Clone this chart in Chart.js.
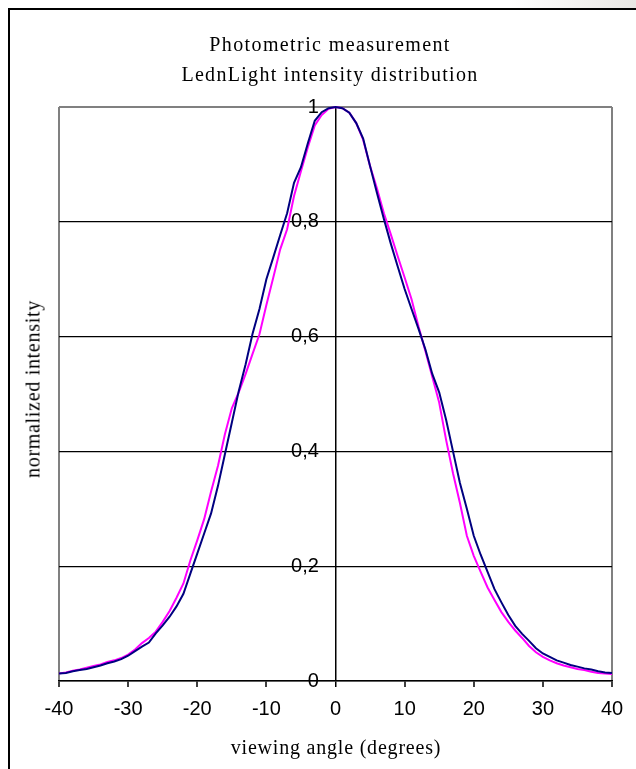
<!DOCTYPE html>
<html>
<head>
<meta charset="utf-8">
<title>Photometric measurement</title>
<script src="https://cdn.jsdelivr.net/npm/chart.js@4/dist/chart.umd.min.js"></script>
<style>
  html, body { margin: 0; padding: 0; }
  body {
    width: 636px; height: 769px; overflow: hidden; position: relative;
    background: linear-gradient(to right, #ffffff 80%, #e9e7e4 100%);
  }
  #frame {
    position: absolute; left: 8px; top: 8px; width: 700px; height: 800px;
    border-left: 2px solid #000; border-top: 2px solid #000; background: #fff;
  }
  #myChart { position: absolute; left: 0; top: 0; }
  .txt {
    position: absolute; font-family: "Liberation Serif", "Times New Roman", serif;
    font-size: 20px; color: #000; white-space: nowrap;
  }
  #title1 { left: 0; width: 660px; text-align: center; top: 33px; letter-spacing: 1.4px; }
  #title2 { left: 0; width: 660px; text-align: center; top: 63px; letter-spacing: 1.3px; }
  #xTitle { left: 0; width: 672px; text-align: center; top: 736px; letter-spacing: 0.8px; }
  #yTitle { left: 33px; top: 389px; transform: translate(-50%, -50%) rotate(-90deg); letter-spacing: 0.7px; }
</style>
</head>
<body>
<div id="frame"></div>
<canvas id="myChart" width="636" height="769"></canvas>
<div class="txt" id="title1">Photometric measurement</div>
<div class="txt" id="title2">LednLight intensity distribution</div>
<div class="txt" id="xTitle">viewing angle (degrees)</div>
<div class="txt" id="yTitle">normalized intensity</div>
<script>
//data
const angles = [-40, -39, -38, -37, -36, -35, -34, -33, -32, -31, -30, -29, -28, -27, -26, -25, -24, -23, -22, -21,
  -20, -19, -18, -17, -16, -15, -14, -13, -12, -11, -10, -9, -8, -7, -6, -5, -4, -3, -2, -1,
  0, 1, 2, 3, 4, 5, 6, 7, 8, 9, 10, 11, 12, 13, 14, 15, 16, 17, 18, 19,
  20, 21, 22, 23, 24, 25, 26, 27, 28, 29, 30, 31, 32, 33, 34, 35, 36, 37, 38, 39, 40];

// measured curve (navy)
const measured = [0.013, 0.014, 0.017, 0.019, 0.021, 0.024, 0.027, 0.031, 0.034, 0.038,
  0.044, 0.052, 0.060, 0.067, 0.083, 0.097, 0.112, 0.130, 0.152, 0.187,
  0.222, 0.257, 0.292, 0.340, 0.395, 0.450, 0.505, 0.552, 0.605, 0.648,
  0.700, 0.738, 0.777, 0.815, 0.868, 0.895, 0.937, 0.976, 0.991, 0.998,
  1.000, 0.998, 0.990, 0.972, 0.945, 0.897, 0.850, 0.805, 0.762, 0.722,
  0.683, 0.648, 0.614, 0.578, 0.535, 0.503, 0.455, 0.400, 0.345, 0.300,
  0.253, 0.220, 0.190, 0.160, 0.137, 0.115, 0.096, 0.082, 0.070, 0.057,
  0.048, 0.042, 0.036, 0.032, 0.028, 0.025, 0.022, 0.020, 0.017, 0.015, 0.014];

// reference curve (magenta)
const reference = [0.013, 0.015, 0.018, 0.020, 0.023, 0.026, 0.029, 0.033, 0.036, 0.040,
  0.046, 0.055, 0.066, 0.075, 0.086, 0.103, 0.122, 0.145, 0.170, 0.210,
  0.245, 0.282, 0.330, 0.375, 0.430, 0.475, 0.503, 0.535, 0.570, 0.604,
  0.655, 0.703, 0.752, 0.787, 0.845, 0.888, 0.930, 0.968, 0.986, 0.997,
  1.000, 0.998, 0.990, 0.972, 0.943, 0.897, 0.858, 0.815, 0.778, 0.740,
  0.703, 0.665, 0.618, 0.575, 0.530, 0.485, 0.420, 0.362, 0.310, 0.253,
  0.218, 0.190, 0.163, 0.141, 0.120, 0.103, 0.088, 0.075, 0.061, 0.050,
  0.042, 0.036, 0.031, 0.027, 0.024, 0.021, 0.019, 0.016, 0.014, 0.013, 0.012];

const xTicks = [-40, -30, -20, -10, 0, 10, 20, 30, 40];
const yTicks = [0, 0.2, 0.4, 0.6, 0.8, 1];

const toPoints = (vals) => angles.map((a, i) => ({ x: a, y: vals[i] }));

// vertical lines: plot frame at the ends, black axis at 0
const xGridColor = (v) => {
  if (Math.abs(v) === 40) return '#808080';
  if (v === 0) return '#000';
  return 'rgba(0,0,0,0)';
};

const ctx = document.getElementById('myChart').getContext('2d');
window.myChart = new Chart(ctx, {
  type: 'line',
  data: {
    datasets: [
      {
        label: 'measured',
        data: toPoints(measured),
        borderColor: '#000080',
        borderWidth: 2,
        pointRadius: 0,
        tension: 0,
        fill: false,
        clip: 4
      },
      {
        label: 'reference',
        data: toPoints(reference),
        borderColor: '#ff00ff',
        borderWidth: 2,
        pointRadius: 0,
        tension: 0,
        fill: false,
        clip: 4
      }
    ]
  },
  options: {
    responsive: false,
    animation: false,
    layout: {
      padding: { top: 107, left: 59, right: 24, bottom: 0 }
    },
    plugins: {
      legend: { display: false },
      title: { display: false },
      tooltip: { enabled: false }
    },
    scales: {
      x: {
        type: 'linear',
        min: -40,
        max: 40,
        afterFit: (s) => { s.height = 88; },
        afterBuildTicks: (s) => { s.ticks = xTicks.map(v => ({ value: v })); },
        border: { color: '#000', width: 1.5 },
        grid: {
          color: (c) => xGridColor(c.tick.value),
          lineWidth: (c) => (c.tick.value === 0 ? 1.5 : 2),
          tickColor: '#000',
          tickWidth: 1.5,
          tickLength: 6
        },
        ticks: {
          color: '#000',
          padding: 10,
          maxRotation: 0,
          font: { family: 'Liberation Sans, Arial, sans-serif', size: 20 }
        }
      },
      y: {
        type: 'linear',
        min: 0,
        max: 1,
        // labels sit just left of the 0 degree line
        position: { x: -2.4 },
        afterBuildTicks: (s) => { s.ticks = yTicks.map(v => ({ value: v })); },
        border: { display: false },
        grid: {
          color: (c) => (c.tick.value === 1 ? '#808080' : '#000'),
          lineWidth: (c) => (c.tick.value === 1 ? 2 : 1.2),
          drawTicks: false
        },
        ticks: {
          color: '#000',
          padding: 0,
          font: { family: 'Liberation Sans, Arial, sans-serif', size: 20 },
          callback: (v) => String(Number(v.toFixed(1))).replace('.', ',')
        }
      }
    }
  }
});
console.log("create chart");
</script>
</body>
</html>
